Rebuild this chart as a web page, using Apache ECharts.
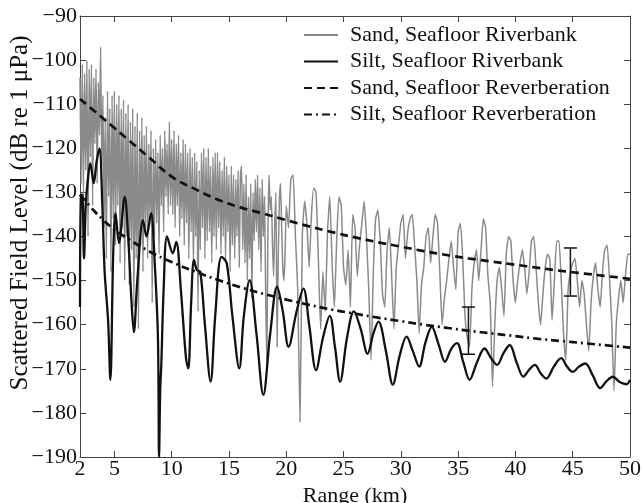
<!DOCTYPE html>
<html><head><meta charset="utf-8">
<script src="https://cdn.jsdelivr.net/npm/echarts@6/dist/echarts.min.js"></script>
<style>html,body{margin:0;padding:0;background:#fff}#c{width:642px;height:503px}</style>
</head><body><div id="c"></div><script>
// ---- data ----
const xTicks = [2, 5, 10, 15, 20, 25, 30, 35, 40, 45, 50];
const yTicks = [-190, -180, -170, -160, -150, -140, -130, -120, -110, -100, -90];

// Sand, Seafloor Riverbank: 2.0–20.0 km sampled every 0.1 km
const sandNear = [
 -104,-128,-101,-131,-103,-125,-100,-140,-102,-122,
 -101,-133,-104,-119,-102,-128,-105,-117,-97,-124,
 -108,-138,-113,-145,-107,-131,-111,-148,-108,-136,
 -107,-142,-110,-133,-108,-146,-111,-138,-109,-150,
 -112,-140,-110,-151,-114,-143,-111,-156,-115,-145,
 -112,-161,-116,-142,-113,-148,-117,-138,-115,-145,
 -119,-136,-116,-155,-120,-140,-118,-137,-121,-144,
 -117,-133,-120,-139,-116,-131,-119,-135,-114,-133,
 -118,
 -135,-116,-138,-119,-133,-117,-140,-121,-136,-118,
 -142,-119,-137,-121,-145,-120,-139,-122,-147,-121,
 -140,-123,-157,-125,-143,-121,-138,-120,-145,-122,
 -141,-120,-139,-124,-146,-122,-140,-121,-143,-121,
 -138,-123,-144,-125,-140,-122,-146,-124,-139,-126,
 -148,-124,-142,-126,-145,-127,-140,-125,-147,-126,
 -124,-143,-128,-146,-126,-150,-131,-145,-128,-154,
 -130,-141,-127,-139,-126,-143,-129,-148,-127,-140,
 -131,-152,-170,-139,-126,-134,-131,-142,-149,-137,
 -130,-165,-145,-132,-128,-138,-147,-150,-144,-133
];
// Sand, Seafloor Riverbank: 20.2–50.0 km sampled every 0.2 km
const sandFar = [
 -138,-127,-126,-140,-152,-182,-140,-132,-137,-147,
 -135,-129,-130,-145,-161,-148,-157,-139,-131,-146,
 -156,-141,-131,-133,-147,-151,-143,-156,-135,-138,
 -149,-142,-137,-132,-140,-152,-168,-148,-136,-134,
 -141,-153,-156,-143,-138,-149,-161,-147,-142,-137,
 -135,-145,-139,-136,-135,-142,-150,-162,-151,-147,
 -140,-138,-146,-140,-135,-137,-148,-160,-154,-150,
 -145,-141,-147,-152,-139,-137,-145,-158,-163,-165,
 -152,-146,-143,-150,-143,-136,-138,-149,-155,-174,
 -160,-150,-147,-152,-158,-144,-140,-141,-150,-155,
 -150,-146,-143,-147,-153,-148,-141,-140,-147,-155,
 -160,-153,-147,-144,-145,-159,-150,-141,-141,-150,
 -162,-168,-152,-148,-146,-145,-150,-156,-150,-153,
 -160,-166,-155,-149,-146,-152,-156,-148,-143,-142,
 -149,-159,-175,-160,-154,-150,-155,-149,-144,-144
];

// Silt, Seafloor Riverbank
const siltX = [2.0,2.07,2.2,2.35,2.5,2.65,2.9,3.2,3.45,3.7,3.95,4.15,4.45,4.65,4.9,5.1,5.4,5.9,6.2,6.5,
 6.7,7.0,7.5,7.8,8.2,8.5,8.8,8.9,9.0,9.1,9.3,9.6,10.1,10.4,10.8,11.25,11.45,11.7,11.95,12.2,
 12.5,12.9,13.4,13.8,14.35,14.8,15.3,15.9,16.3,16.8,17.4,18.0,18.6,19.2,19.7,20.2,20.9,21.5,22.0,22.6,
 23.2,23.8,24.25,24.7,25.3,25.9,26.5,27.1,27.6,28.05,28.7,29.3,29.9,30.5,31.05,31.6,32.15,32.7,33.3,33.85,
 34.4,34.9,35.45,36.0,36.65,37.3,37.85,38.4,38.95,39.5,40.1,40.7,41.2,41.7,42.2,42.7,43.35,44.0,44.5,45.0,
 45.55,46.1,46.75,47.4,47.95,48.5,49.1,49.7,50];
const siltY = [-156,-131,-130.5,-145,-133,-128,-123.4,-127.9,-123,-120,-133,-148,-159,-172.5,-143.8,-134.7,-141.5,-131,-140,-155,
 -161.7,-150,-136.3,-140,-134.7,-145,-162.8,-190,-175,-168.7,-152,-140,-143.8,-141.2,-152,-167.6,-169.9,-155,-145.3,-147.6,
 -148,-160,-172.9,-158,-144.6,-146,-158,-169.9,-158,-149.9,-162,-175.9,-162,-151.4,-157,-165,-157,-151.8,-160,-170.3,
 -163,-158,-165,-172.9,-163,-157,-161,-166.6,-162,-159.3,-166,-173.6,-167,-162.7,-166,-169.5,-164,-160.5,-164.5,-168.4,
 -165.5,-164.2,-168.5,-172.5,-168.5,-165.4,-167.5,-169.1,-166.5,-164.6,-168.5,-171.8,-170.2,-169.1,-171,-172.2,-169.5,-167.6,-169.5,-170.7,
 -169.5,-168.8,-171.5,-174.4,-172.8,-171.8,-173,-173.5,-172.5];

// Reverberation model curves
const revX = [2,3,4,5,6,8,10,12,14,16,18,20,22,24,26,28,30,32,34,36,38,40,42,44,46,48,50];
const sandRev = [-108.8,-111,-113.2,-115.4,-117.6,-122,-126.4,-129.2,-131.6,-133.4,-134.8,-136.3,-137.7,-139,-140.2,-141.3,-142.3,-143.3,-144.2,-145,-145.7,-146.4,-147.1,-147.8,-148.4,-149,-149.6];
const siltRev = [-130.5,-133.5,-136.2,-138.4,-140.2,-143.3,-145.8,-147.9,-149.8,-151.5,-153,-154.3,-155.5,-156.6,-157.5,-158.4,-159.2,-160,-160.7,-161.4,-162,-162.6,-163.2,-163.7,-164.2,-164.7,-165.2];

// Error bars
const errX = [35.9, 44.8];
const errLow = [-166.7, -153.5];
const errHigh = [-156, -142.6];

const names = ['Sand, Seafloor Riverbank','Silt, Seafloor Riverbank','Sand, Seafloor Reverberation','Silt, Seafloor Reverberation'];

// ---- build ----
function sampleGrid(start, step, n) { const a = []; for (let i = 0; i < n; i++) a.push(Math.round((start + i * step) * 100) / 100); return a; }
const sandX = sampleGrid(2.0, 0.1, sandNear.length).concat(sampleGrid(20.2, 0.2, sandFar.length));
const sandY = sandNear.concat(sandFar);
const zip = (xs, ys) => xs.map((x, i) => [x, ys[i]]);

const FONT = "'Liberation Serif','Times New Roman',serif";
const AX = '#444';
const minus = v => String(v).replace('-', '\u2212');

const chart = echarts.init(document.getElementById('c'), null, {renderer: 'canvas'});
chart.setOption({
  animation: false,
  backgroundColor: '#fff',
  grid: {left: 80, right: 12, top: 16, bottom: 46, containLabel: false, outerBoundsMode: 'none'},
  legend: {
    data: names, orient: 'vertical', left: 303, top: 24, padding: 0,
    itemWidth: 34, itemHeight: 14, itemGap: 4.5,
    itemStyle: {color: 'rgba(0,0,0,0)', borderColor: 'rgba(0,0,0,0)', borderWidth: 0, opacity: 0},
    textStyle: {fontFamily: FONT, fontSize: 22, color: '#111', lineHeight: 22, padding: [0,0,0,7]}
  },
  graphic: [{
    type: 'text', x: 20, y: 213, rotation: Math.PI / 2,
    style: {text: 'Scattered Field Level (dB re 1 \u03bcPa)', font: '25px ' + FONT, fill: '#111', align: 'center', verticalAlign: 'middle'}
  }],
  xAxis: [{
    type: 'value', position: 'bottom', min: 2, max: 50,
    axisLine: {show: true, onZero: false, lineStyle: {color: AX}},
    axisTick: {show: true, inside: true, length: 6, customValues: xTicks, lineStyle: {color: AX}},
    axisLabel: {customValues: xTicks, color: '#111', fontFamily: FONT, fontSize: 22, margin: 1},
    splitLine: {show: false},
    name: 'Range (km)', nameLocation: 'middle', nameGap: 18,
    nameTextStyle: {fontFamily: FONT, fontSize: 22, color: '#111'}
  }, {
    type: 'value', position: 'top', min: 2, max: 50,
    axisLine: {show: true, onZero: false, lineStyle: {color: AX}},
    axisTick: {show: true, inside: true, length: 6, customValues: xTicks, lineStyle: {color: AX}},
    axisLabel: {show: false}, splitLine: {show: false}
  }],
  yAxis: [{
    type: 'value', position: 'left', min: -190, max: -90, interval: 10,
    axisLine: {show: true, onZero: false, lineStyle: {color: AX}},
    axisTick: {show: true, inside: true, length: 6, lineStyle: {color: AX}},
    axisLabel: {color: '#111', fontFamily: FONT, fontSize: 22, margin: 3, showMinLabel: true, showMaxLabel: true, formatter: minus},
    splitLine: {show: false}
  }, {
    type: 'value', position: 'right', min: -190, max: -90, interval: 10,
    axisLine: {show: true, onZero: false, lineStyle: {color: AX}},
    axisTick: {show: true, inside: true, length: 6, lineStyle: {color: AX}},
    axisLabel: {show: false}, splitLine: {show: false}
  }],
  series: [
    {name: names[0], type: 'line', data: zip(sandX, sandY), symbol: 'none', smooth: 0.15,
     lineStyle: {color: '#8a8a8a', width: 1.5}, itemStyle: {color: '#8a8a8a'}, z: 2},
    {name: names[1], type: 'line', data: zip(siltX, siltY), symbol: 'none', smooth: 0.35,
     lineStyle: {color: '#111', width: 2.3}, itemStyle: {color: '#111'}, z: 3},
    {name: names[2], type: 'line', data: zip(revX, sandRev), symbol: 'none', smooth: true,
     lineStyle: {color: '#111', width: 2.7, type: [8, 5]}, itemStyle: {color: '#111'}, z: 4},
    {name: names[3], type: 'line', data: zip(revX, siltRev), symbol: 'none', smooth: true,
     lineStyle: {color: '#111', width: 2.7, type: [8, 4, 2, 4]}, itemStyle: {color: '#111'}, z: 4},
    {name: 'error', type: 'custom', z: 5,
     data: errX.map((x, i) => [x, errLow[i], errHigh[i]]),
     renderItem: function (params, api) {
       const lo = api.coord([api.value(0), api.value(1)]);
       const hi = api.coord([api.value(0), api.value(2)]);
       const w = 6.5, st = {stroke: '#111', lineWidth: 1.5};
       return {type: 'group', children: [
         {type: 'line', shape: {x1: lo[0], y1: lo[1], x2: hi[0], y2: hi[1]}, style: st},
         {type: 'line', shape: {x1: lo[0] - w, y1: lo[1], x2: lo[0] + w, y2: lo[1]}, style: st},
         {type: 'line', shape: {x1: hi[0] - w, y1: hi[1], x2: hi[0] + w, y2: hi[1]}, style: st}
       ]};
     }}
  ]
});
</script></body></html>
